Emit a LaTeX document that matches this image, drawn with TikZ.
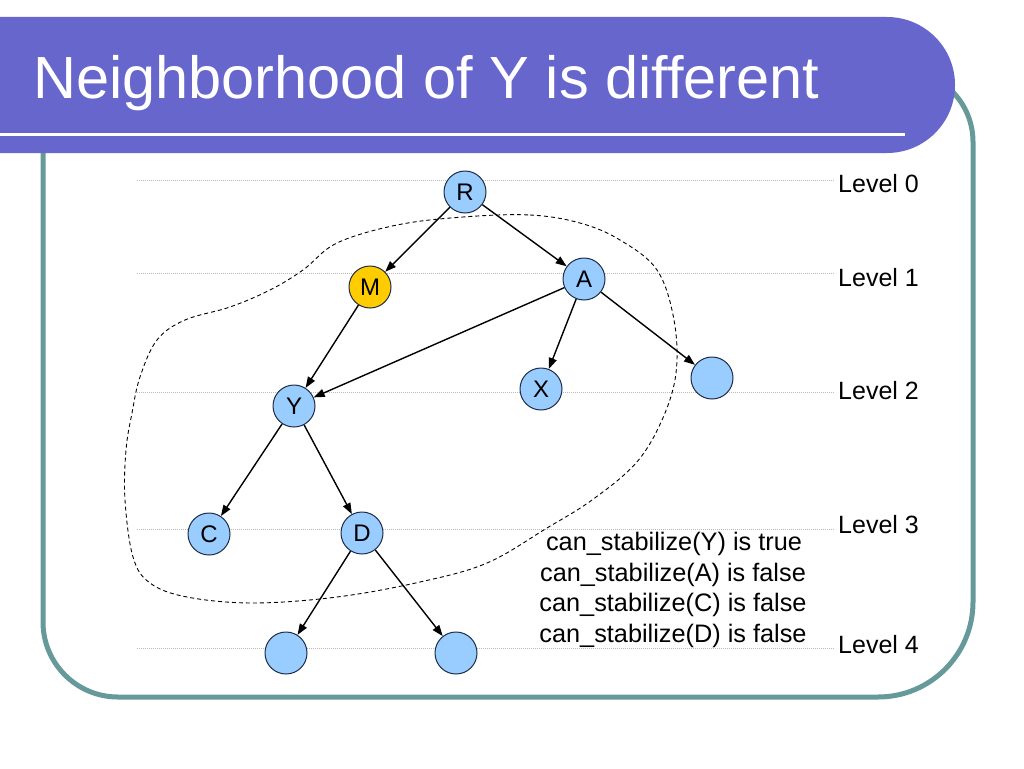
\documentclass[tikz,border=0pt]{standalone}
\usepackage{fontspec}
\setmainfont{Liberation Sans}
\usetikzlibrary{arrows.meta}
\definecolor{titlebg}{RGB}{102,102,204}
\definecolor{framec}{RGB}{102,153,153}
\definecolor{nodeblue}{RGB}{153,204,255}
\definecolor{nodegold}{RGB}{255,204,0}
\definecolor{nodeline}{RGB}{30,45,70}
\definecolor{levelline}{RGB}{185,185,185}
\begin{document}
\begin{tikzpicture}[x=1pt,y=-1pt,
  tnode/.style={circle,draw=nodeline,line width=1pt,fill=nodeblue,minimum size=42pt,inner sep=0pt,font=\fontsize{24}{24}\selectfont},
  goldnode/.style={tnode,fill=nodegold},
  arr/.style={-{Triangle[length=11pt,width=8pt]},line width=1.4pt},
  lvlline/.style={draw=levelline,line width=0.9pt,dash pattern=on 1pt off 1pt},
  lvltext/.style={anchor=base west,font=\fontsize{25}{25}\selectfont,inner sep=0pt},
  stabtext/.style={anchor=base,font=\fontsize{25.3}{25}\selectfont,inner sep=0pt},
  hood/.style={draw=black,line width=0.9pt,dash pattern=on 4pt off 3pt}
]
\useasboundingbox (0,0) rectangle (1024,768);
\fill[white] (0,0) rectangle (1024,768);
% frame
\draw[framec,line width=5pt] (43,70) [rounded corners=75] -- (43,697) [rounded corners=95] -- (973,697) [rounded corners=72] -- (973,70) [sharp corners] -- cycle;
% title bar
\fill[titlebg] (0,17) -- (887,17) arc[start angle=-90,end angle=90,radius=68] -- (0,153) -- cycle;
\draw[white,line width=3pt] (0,134) -- (905,134);
\node[anchor=base west,inner sep=0pt,text=white,font=\fontsize{59.5}{60}\selectfont] (title) at (33,98) {Neighborhood of Y is different};
% level lines and labels
\draw[lvlline] (137,180) -- (835,180);
\draw[lvlline] (137,273) -- (835,273);
\draw[lvlline] (137,392) -- (835,392);
\draw[lvlline] (137,529) -- (835,529);
\draw[lvlline] (137,648) -- (835,648);
\node[lvltext] (l0) at (838,192) {Level 0};
\node[lvltext] (l1) at (838,286) {Level 1};
\node[lvltext] (l2) at (838,399) {Level 2};
\node[lvltext] (l3) at (838,533) {Level 3};
\node[lvltext] (l4) at (838,653) {Level 4};
% neighborhood
\draw[hood] plot[smooth cycle,tension=0.6] coordinates {
 (463,217) (530,215) (580,223) (620,240) (657,270) (674,320) (676,373) (662,420)
 (636,463) (592,500) (547,528) (487,563) (420,582) (337,597) (253,603)
 (187,597) (150,583) (133,557) (125,500) (126,450) (132,413) (140,377)
 (157,340) (185,320) (230,307) (270,290) (303,270) (337,243) (397,225)};
% nodes
\node[tnode] (R) at (465,192) {R};
\node[goldnode] (M) at (370,287) {M};
\node[tnode] (A) at (584,279) {A};
\node[tnode] (Y) at (294,406) {Y};
\node[tnode] (X) at (541,389) {X};
\node[tnode] (E) at (712,378) {};
\node[tnode] (C) at (209,534) {C};
\node[tnode] (D) at (362,533) {D};
\node[tnode] (F) at (286,653) {};
\node[tnode] (G) at (456,653) {};
% edges
\draw[arr] (R) -- (M);
\draw[arr] (R) -- (A);
\draw[arr] (M) -- (Y);
\draw[arr] (A) -- (Y);
\draw[arr] (A) -- (X);
\draw[arr] (A) -- (E);
\draw[arr] (Y) -- (C);
\draw[arr] (Y) -- (D);
\draw[arr] (D) -- (F);
\draw[arr] (D) -- (G);
% text
\node[stabtext] (s1) at (674,550) {can\_stabilize(Y) is true};
\node[stabtext] (s2) at (673,581) {can\_stabilize(A) is false};
\node[stabtext] (s3) at (673,611) {can\_stabilize(C) is false};
\node[stabtext] (s4) at (673,642) {can\_stabilize(D) is false};
\end{tikzpicture}
\end{document}
